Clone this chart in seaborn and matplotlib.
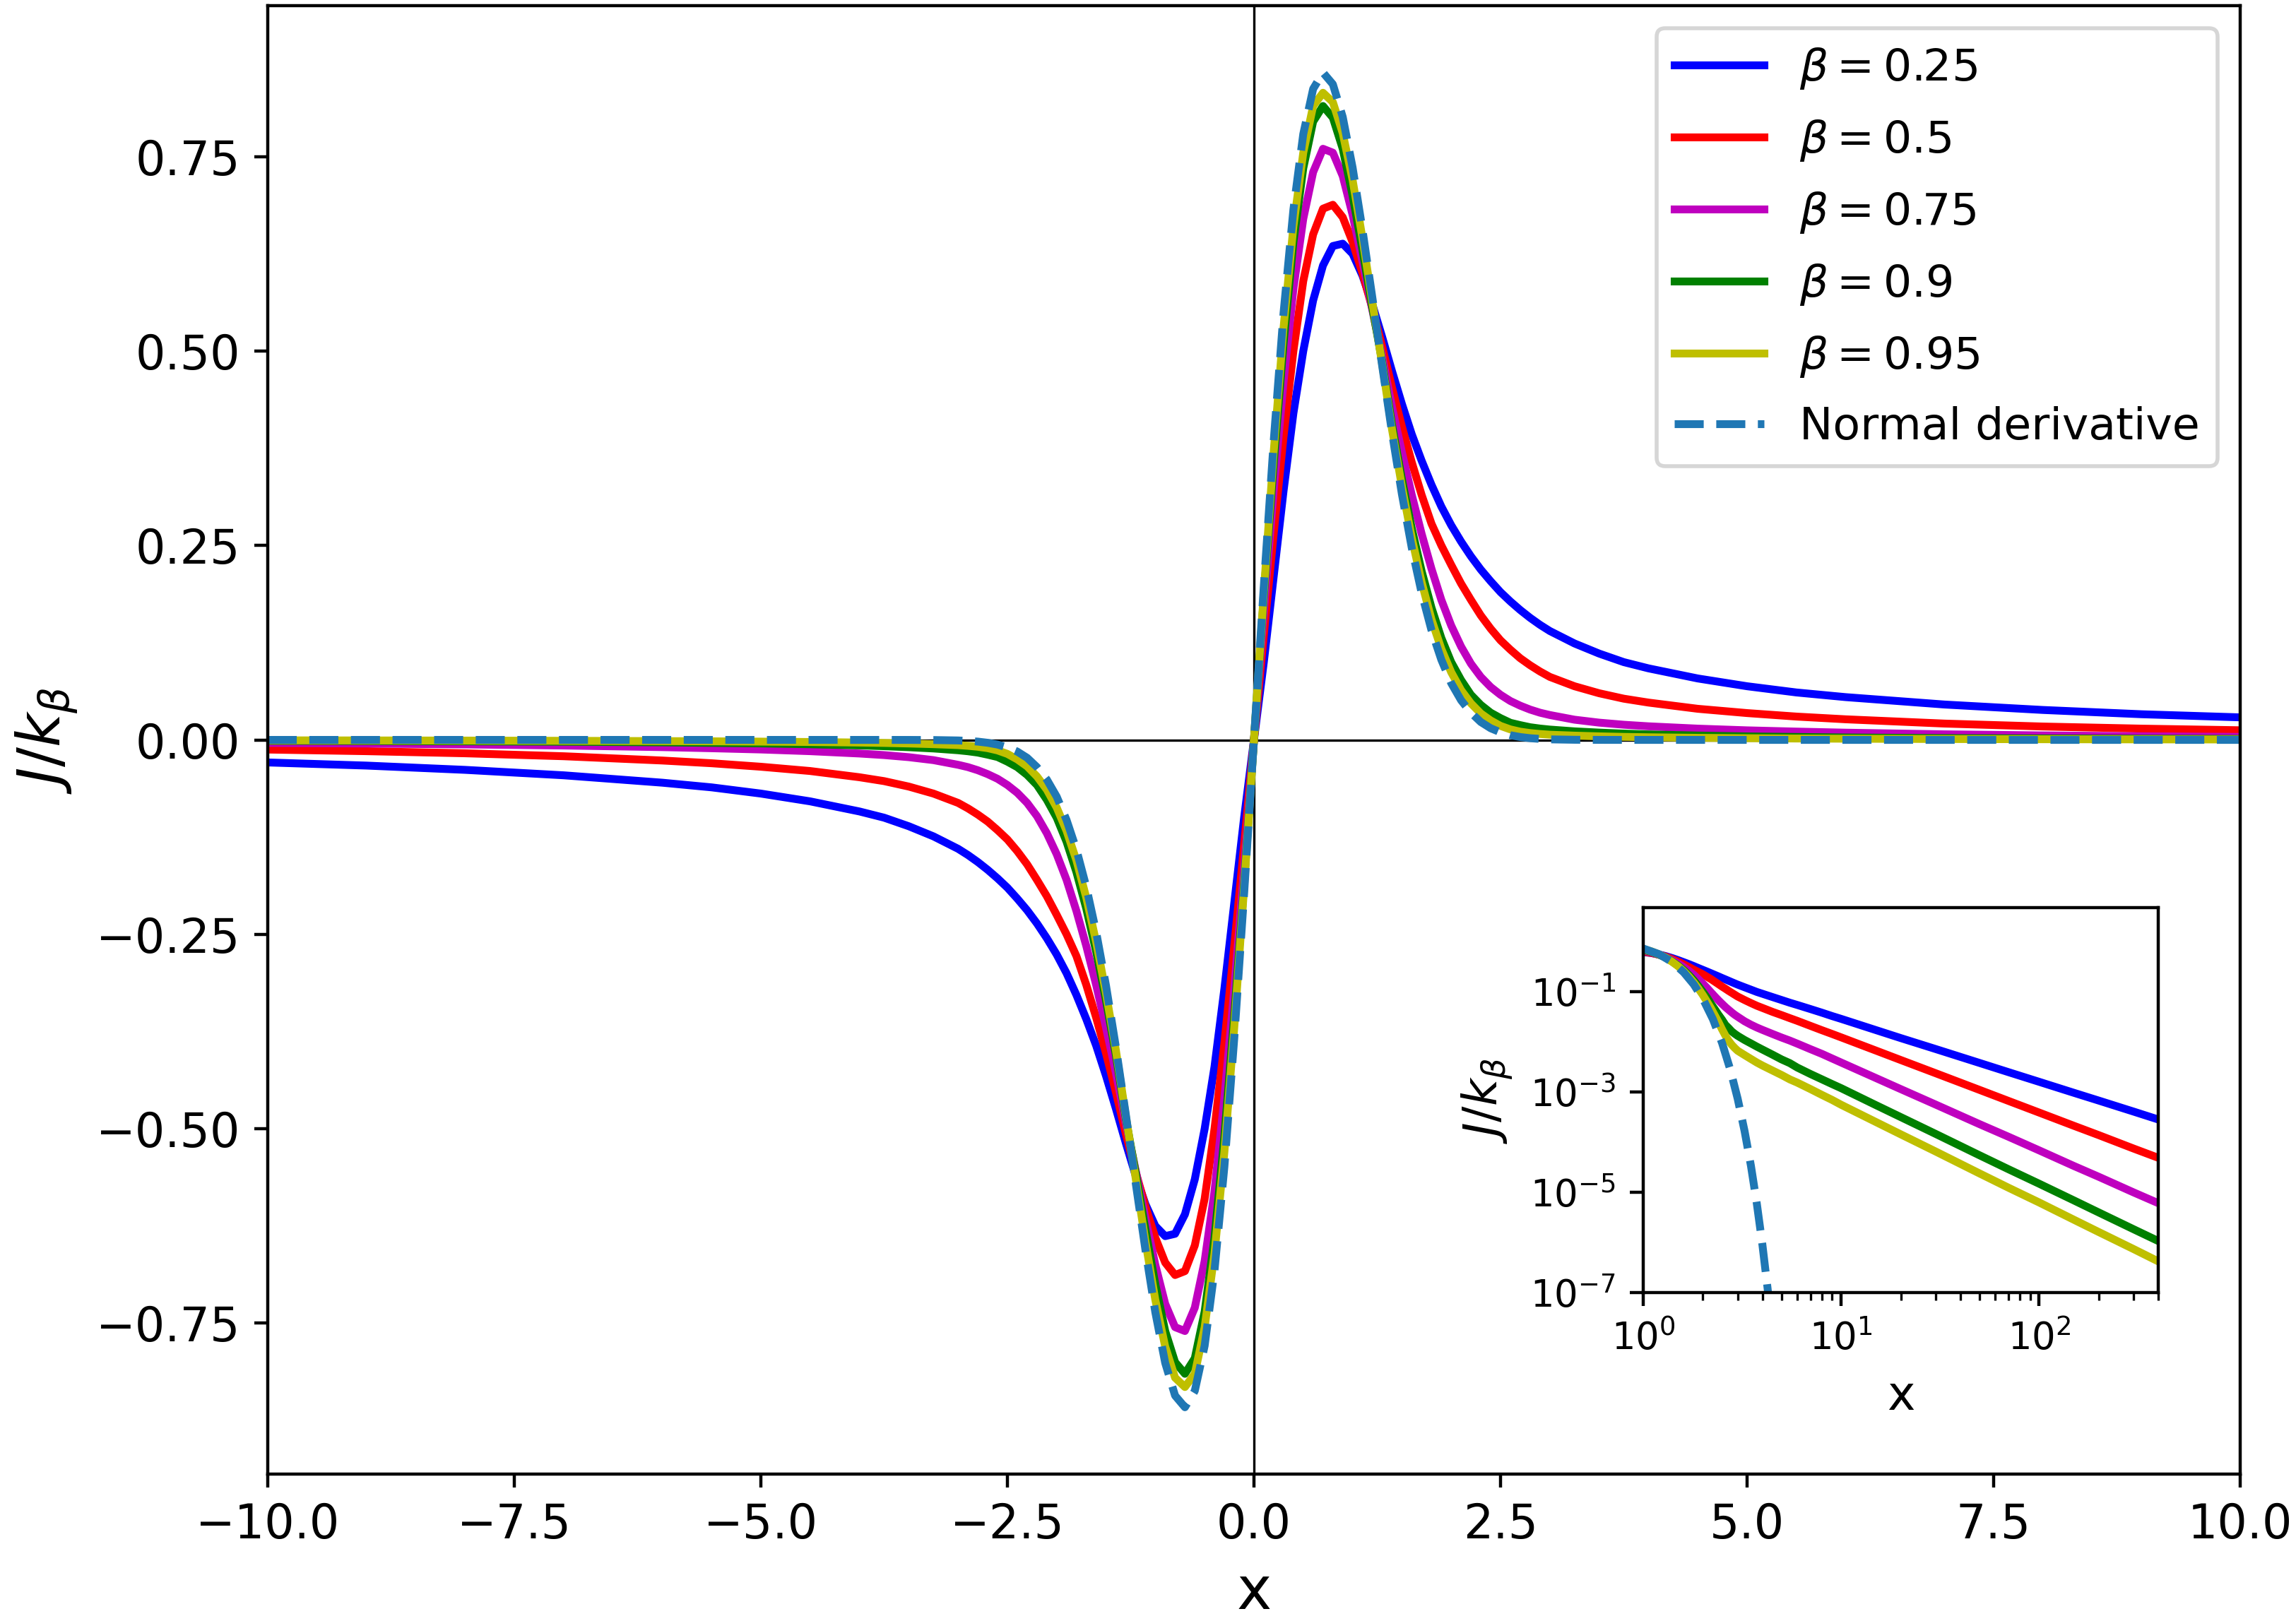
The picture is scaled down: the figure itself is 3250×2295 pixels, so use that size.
import numpy as np
import pandas as pd
import seaborn as sns
import matplotlib.pyplot as plt
from matplotlib.ticker import NullLocator

# values for x >= 0 (the curves are odd, left half is mirrored)
x_half = [0.0, 0.1, 0.2, 0.3, 0.4, 0.5, 0.6, 0.7, 0.8, 0.9, 1.0, 1.1, 1.2, 1.3, 1.4,
          1.5, 1.6, 1.7, 1.8, 1.9, 2.0, 2.1, 2.2, 2.3, 2.4, 2.5, 2.6, 2.7, 2.8, 2.9, 3.0,
          3.25, 3.5, 3.75, 4.0, 4.5, 5.0, 5.5, 6.0, 7.0, 8.0, 9.0, 10.0]
j_025 = [0.0, 0.10, 0.21, 0.32, 0.42, 0.50, 0.565, 0.61, 0.635, 0.638, 0.625, 0.597, 0.56,
         0.518, 0.474, 0.432, 0.393, 0.359, 0.328, 0.300, 0.276, 0.255, 0.236, 0.219, 0.204,
         0.190, 0.178, 0.167, 0.157, 0.148, 0.140, 0.124, 0.111, 0.100, 0.092, 0.079, 0.069,
         0.061, 0.055, 0.0455, 0.0385, 0.033, 0.029]
j_05 = [0.0, 0.135, 0.265, 0.39, 0.50, 0.59, 0.65, 0.683, 0.688, 0.672, 0.64, 0.60, 0.555,
        0.506, 0.453, 0.403, 0.357, 0.315, 0.278, 0.250, 0.225, 0.201, 0.180, 0.160, 0.143,
        0.128, 0.116, 0.105, 0.096, 0.088, 0.081, 0.069, 0.060, 0.053, 0.048, 0.040, 0.0345,
        0.030, 0.0265, 0.021, 0.0172, 0.0145, 0.0124]
j_075 = [0.0, 0.165, 0.32, 0.46, 0.58, 0.67, 0.73, 0.76, 0.755, 0.725, 0.675, 0.615, 0.553,
         0.493, 0.428, 0.37, 0.315, 0.265, 0.22, 0.18, 0.147, 0.12, 0.098, 0.081, 0.068,
         0.058, 0.050, 0.044, 0.039, 0.035, 0.032, 0.026, 0.0222, 0.0195, 0.0175, 0.0145,
         0.0123, 0.0107, 0.0093, 0.0072, 0.0058, 0.0047, 0.0039]
j_09 = [0.0, 0.185, 0.355, 0.51, 0.64, 0.735, 0.795, 0.815, 0.80, 0.76, 0.70, 0.63, 0.556,
        0.486, 0.405, 0.335, 0.272, 0.217, 0.17, 0.131, 0.10, 0.077, 0.058, 0.045, 0.035,
        0.028, 0.022, 0.019, 0.0163, 0.0146, 0.0133, 0.0110, 0.0094, 0.0081, 0.0071, 0.0056,
        0.0045, 0.0038, 0.0031, 0.0023, 0.0018, 0.00145, 0.0012]
j_095 = [0.0, 0.19, 0.37, 0.53, 0.66, 0.755, 0.815, 0.832, 0.82, 0.78, 0.72, 0.645, 0.563,
         0.483, 0.399, 0.326, 0.26, 0.203, 0.155, 0.117, 0.087, 0.064, 0.047, 0.034, 0.025,
         0.018, 0.0135, 0.0106, 0.0088, 0.0076, 0.0067, 0.0055, 0.0046, 0.0039, 0.0034,
         0.0027, 0.0022, 0.0018, 0.00155, 0.00115, 0.00088, 0.0007, 0.00056]
j_normal = [0.0, 0.198, 0.384, 0.549, 0.682, 0.779, 0.837, 0.858, 0.843, 0.801, 0.736, 0.656,
            0.569, 0.481, 0.395, 0.316, 0.247, 0.189, 0.141, 0.103, 0.073, 0.051, 0.035,
            0.023, 0.015, 0.0097, 0.006, 0.0037, 0.0022, 0.0013, 0.0007, 0.00017, 0.00003,
            0.0, 0.0, 0.0, 0.0, 0.0, 0.0, 0.0, 0.0, 0.0, 0.0]

# inset (log-log) : x >= 1, main values from x=1 plus the far tail
x_tail = [15, 20, 30, 50, 70, 100, 150, 200, 300, 400]
tail_025 = [0.0173, 0.0120, 0.00726, 0.00383, 0.00251, 0.00161, 0.00097, 0.00068, 0.00041, 0.000285]
tail_05 = [0.00675, 0.00438, 0.00239, 0.00111, 0.000669, 0.000392, 0.000213, 0.000139, 7.5e-5, 4.9e-5]
tail_075 = [0.00191, 0.00115, 0.000566, 0.00023, 0.000129, 6.9e-5, 3.36e-5, 2.05e-5, 1.0e-5, 6.1e-6]
tail_09 = [0.00055, 0.000318, 0.000147, 5.5e-5, 2.9e-5, 1.49e-5, 6.9e-6, 3.98e-6, 1.84e-6, 1.07e-6]
tail_095 = [0.000253, 0.000144, 6.55e-5, 2.39e-5, 1.24e-5, 6.3e-6, 2.84e-6, 1.62e-6, 7.4e-7, 4.2e-7]
x_normal_log = [1.0, 1.2, 1.4, 1.6, 1.8, 2.0, 2.25, 2.5, 2.75, 3.0, 3.25, 3.5, 3.75, 4.0, 4.25, 4.5]
normal_log = [0.736, 0.569, 0.395, 0.247, 0.141, 0.0733, 0.0285, 0.00965, 0.00286, 7.4e-4,
              1.68e-4, 3.4e-5, 5.9e-6, 9.0e-7, 1.2e-7, 1.4e-8]

labels = [r"$\beta = 0.25$", r"$\beta = 0.5$", r"$\beta = 0.75$", r"$\beta = 0.9$", r"$\beta = 0.95$"]
couleurs = ["b", "r", "m", "g", "y"]
courbes = [j_025, j_05, j_075, j_09, j_095]
queues = [tail_025, tail_05, tail_075, tail_09, tail_095]

plt.rcParams["xtick.labelsize"] = 12
plt.rcParams["ytick.labelsize"] = 12

x_full = np.concatenate([-np.array(x_half[:0:-1]), np.array(x_half)])

def miroir(v):
    v = np.array(v)
    return np.concatenate([-v[:0:-1], v])

fig = plt.figure(figsize=(8.125, 5.7375), dpi=400)
ax = fig.add_axes([0.1166, 0.0906, 0.8591, 0.9059])
ax.axhline(0, color="k", lw=0.6)
ax.axvline(0, color="k", lw=0.6)
for y, c, lab in zip(courbes, couleurs, labels):
    sns.lineplot(x=x_full, y=miroir(y), color=c, lw=2, label=lab, ax=ax)
sns.lineplot(x=x_full, y=miroir(j_normal), color="#1f77b4", lw=2, linestyle="--",
             label="Normal derivative", ax=ax)
ax.set_xlim(-10, 10)
ax.set_ylim(-0.944, 0.944)
ax.set_xlabel("x", fontsize=15)
ax.set_ylabel(r"$J/k_\beta$", fontsize=15)
ax.legend(loc="upper right", fontsize=11.4, labelspacing=0.6)

# inset
axi = fig.add_axes([0.7157, 0.2026, 0.2243, 0.2374])
x_log = x_half[10:] + x_tail
for y, q, c in zip(courbes, queues, couleurs):
    sns.lineplot(x=x_log, y=y[10:] + q, color=c, lw=2, ax=axi)
sns.lineplot(x=x_normal_log, y=normal_log, color="#1f77b4", lw=2, linestyle="--", ax=axi)
axi.set_xscale("log")
axi.set_yscale("log")
axi.set_xlim(1, 400)
axi.set_ylim(1e-7, 10 ** 0.68)
axi.set_yticks([1e-7, 1e-5, 1e-3, 1e-1])
axi.yaxis.set_minor_locator(NullLocator())
axi.tick_params(labelsize=9.5)
axi.set_xlabel("x", fontsize=12)
axi.set_ylabel(r"$J/k_\beta$", fontsize=12)

fig.savefig("out.png", dpi=400)
